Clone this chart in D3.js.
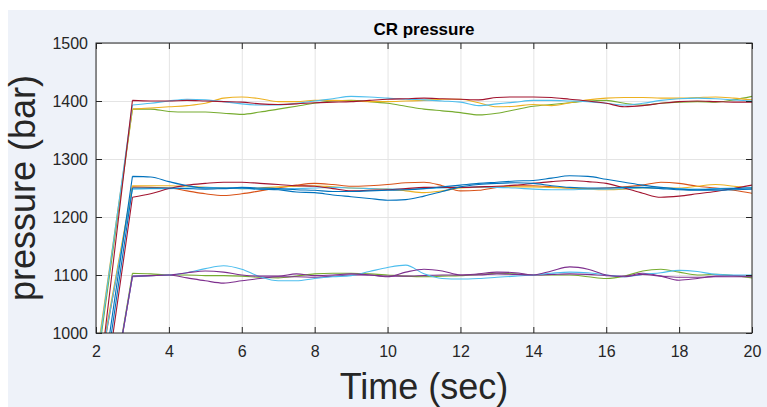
<!DOCTYPE html>
<html lang="en">

<head>
	<meta charset="UTF-8">
	<script src="https://cdn.jsdelivr.net/npm/d3@7"></script>
	<title>CR pressure</title>
	<style>
		body {
			margin: 0;
			background: #fff;
		}

		svg {
			display: block;
			font-family: Arial, "Liberation Sans", sans-serif;
		}

		.tick text {
			fill: #262626;
			font-size: 16px;
		}
	</style>
</head>

<body>
	<div id="chart"></div>
	<script>
		// sample times (s); first sample is the ramp start, clipped below 1000 bar
		const times = [2, 3, 3.5, 4, 4.5, 5, 5.5, 6, 6.5, 7, 7.5, 8, 8.5, 9, 9.5, 10, 10.5, 11, 11.5,
			12, 12.5, 13, 13.5, 14, 14.5, 15, 15.5, 16, 16.5, 17, 17.5, 18, 18.5, 19, 19.5, 20];

		// ~1400 bar runs
		const hiRed = [870, 1401, 1400, 1400, 1401, 1400, 1399, 1398, 1395, 1394, 1395, 1397, 1398, 1399, 1401, 1403, 1404, 1405, 1404, 1403, 1402, 1406, 1407, 1407, 1406, 1403, 1400, 1396, 1390, 1392, 1396, 1399, 1400, 1399, 1398, 1398];
		const hiCyan = [940, 1393, 1396, 1400, 1403, 1402, 1399, 1395, 1393, 1393, 1396, 1400, 1404, 1408, 1407, 1405, 1403, 1402, 1400, 1398, 1392, 1395, 1398, 1401, 1401, 1400, 1399, 1396, 1393, 1396, 1401, 1404, 1405, 1404, 1402, 1400];
		const hiYellow = [950, 1386, 1388, 1390, 1392, 1396, 1405, 1407, 1404, 1399, 1399, 1401, 1401, 1400, 1399, 1399, 1400, 1401, 1403, 1403, 1397, 1390, 1391, 1394, 1392, 1397, 1402, 1405, 1406, 1406, 1405, 1405, 1406, 1407, 1405, 1402];
		const hiGreen = [930, 1386, 1386, 1382, 1381, 1381, 1379, 1377, 1381, 1386, 1391, 1396, 1400, 1401, 1399, 1396, 1391, 1386, 1383, 1380, 1376, 1379, 1385, 1391, 1394, 1397, 1400, 1401, 1396, 1393, 1396, 1398, 1399, 1398, 1402, 1408];

		// ~1250 bar runs
		const midBlueA = [835, 1270, 1269, 1261, 1254, 1250, 1250, 1251, 1250, 1249, 1247, 1246, 1244, 1244, 1245, 1246, 1247, 1249, 1252, 1255, 1258, 1260, 1262, 1263, 1267, 1271, 1270, 1265, 1260, 1255, 1251, 1248, 1247, 1248, 1249, 1250];
		const midBlueB = [815, 1250, 1250, 1250, 1249, 1248, 1249, 1250, 1248, 1247, 1243, 1242, 1238, 1235, 1232, 1229, 1230, 1236, 1244, 1252, 1256, 1258, 1259, 1258, 1254, 1251, 1250, 1250, 1251, 1251, 1249, 1247, 1246, 1246, 1247, 1248];
		const midOrange = [900, 1252, 1251, 1250, 1245, 1240, 1237, 1240, 1245, 1250, 1255, 1258, 1256, 1253, 1254, 1256, 1259, 1260, 1254, 1245, 1246, 1251, 1254, 1254, 1252, 1250, 1249, 1250, 1252, 1255, 1260, 1258, 1253, 1250, 1246, 1241];
		const midRed = [792, 1234, 1240, 1249, 1255, 1258, 1260, 1260, 1258, 1256, 1254, 1253, 1249, 1245, 1246, 1247, 1249, 1251, 1251, 1251, 1252, 1253, 1255, 1258, 1261, 1263, 1261, 1258, 1250, 1241, 1234, 1236, 1240, 1244, 1249, 1255];
		const midYellow = [910, 1254, 1254, 1254, 1253, 1251, 1250, 1249, 1250, 1252, 1253, 1254, 1252, 1250, 1249, 1248, 1245, 1242, 1245, 1250, 1251, 1252, 1252, 1252, 1251, 1250, 1248, 1247, 1248, 1250, 1250, 1250, 1253, 1256, 1253, 1250];
		const midCyan = [905, 1248, 1249, 1249, 1250, 1251, 1250, 1249, 1248, 1248, 1249, 1250, 1251, 1250, 1249, 1248, 1248, 1249, 1250, 1251, 1252, 1251, 1250, 1248, 1247, 1247, 1248, 1248, 1249, 1250, 1250, 1249, 1248, 1249, 1250, 1251];

		// ~1100 bar runs
		const loCyan = [730, 1098, 1099, 1100, 1104, 1111, 1116, 1110, 1097, 1090, 1090, 1094, 1097, 1099, 1106, 1113, 1117, 1102, 1094, 1093, 1094, 1096, 1098, 1100, 1103, 1105, 1104, 1100, 1097, 1101, 1104, 1108, 1106, 1101, 1100, 1100];
		const loPurpleA = [730, 1098, 1099, 1100, 1104, 1107, 1105, 1100, 1098, 1098, 1102, 1099, 1100, 1102, 1100, 1097, 1105, 1110, 1107, 1100, 1100, 1102, 1101, 1100, 1107, 1114, 1110, 1100, 1097, 1101, 1098, 1096, 1096, 1097, 1097, 1097];
		const loPurpleB = [730, 1097, 1099, 1100, 1095, 1090, 1086, 1090, 1094, 1097, 1097, 1096, 1098, 1100, 1100, 1098, 1098, 1099, 1100, 1100, 1102, 1105, 1104, 1100, 1101, 1102, 1101, 1099, 1098, 1103, 1098, 1091, 1094, 1098, 1099, 1098];
		const loGreen = [730, 1103, 1102, 1100, 1100, 1099, 1099, 1098, 1096, 1095, 1098, 1102, 1103, 1103, 1102, 1100, 1098, 1097, 1098, 1099, 1101, 1103, 1102, 1100, 1100, 1100, 1097, 1094, 1098, 1107, 1110, 1105, 1100, 1101, 1099, 1095];

		const runs = [
			{ values: midOrange, color: '#D95319' },
			{ values: midYellow, color: '#EDB120' },
			{ values: midCyan, color: '#4DBEEE' },
			{ values: midRed, color: '#A2142F' },
			{ values: midBlueB, color: '#0072BD' },
			{ values: midBlueA, color: '#0072BD' },
			{ values: hiGreen, color: '#77AC30' },
			{ values: hiYellow, color: '#EDB120' },
			{ values: hiCyan, color: '#4DBEEE' },
			{ values: hiRed, color: '#A2142F' },
			{ values: loGreen, color: '#77AC30' },
			{ values: loPurpleB, color: '#7E2F8E' },
			{ values: loCyan, color: '#4DBEEE' },
			{ values: loPurpleA, color: '#7E2F8E' }
		];

		const xTicks = [2, 4, 6, 8, 10, 12, 14, 16, 18, 20];
		const yTicks = [1000, 1100, 1200, 1300, 1400, 1500];

		const width = 767;
		const height = 407;
		const plotL = 96, plotR = 752, plotT = 43, plotB = 333;

		const svg = d3.select('#chart')
			.append('svg')
			.attr('width', width)
			.attr('height', height);

		// figure background
		svg.append('rect')
			.attr('x', 8).attr('y', 10)
			.attr('width', width - 8).attr('height', height - 10)
			.attr('fill', '#eef2f9');
		svg.append('rect')
			.attr('x', plotL).attr('y', plotT)
			.attr('width', plotR - plotL).attr('height', plotB - plotT)
			.attr('fill', '#fff');

		const x = d3.scaleLinear().domain([2, 20]).range([plotL, plotR]);
		const y = d3.scaleLinear().domain([1000, 1500]).range([plotB, plotT]);

		// grid
		svg.append('g')
			.attr('transform', `translate(0,${plotB})`)
			.call(d3.axisBottom(x).tickValues(xTicks).tickSize(-(plotB - plotT)).tickFormat(''))
			.call(g => g.select('.domain').remove())
			.selectAll('line').attr('stroke', '#e4e4e4');
		svg.append('g')
			.attr('transform', `translate(${plotL},0)`)
			.call(d3.axisLeft(y).tickValues(yTicks).tickSize(-(plotR - plotL)).tickFormat(''))
			.call(g => g.select('.domain').remove())
			.selectAll('line').attr('stroke', '#e4e4e4');

		// lines: straight ramp up to t=3, smooth afterwards
		svg.append('clipPath').attr('id', 'clip')
			.append('rect')
			.attr('x', plotL).attr('y', plotT)
			.attr('width', plotR - plotL).attr('height', plotB - plotT);

		const pts = vals => vals.map((v, i) => [x(times[i]), y(v)]);
		const ramp = d3.line();
		const body = d3.line().curve(d3.curveMonotoneX);

		const lines = svg.append('g').attr('clip-path', 'url(#clip)');
		runs.forEach(r => {
			const p = pts(r.values);
			lines.append('path')
				.attr('d', ramp(p.slice(0, 2)) + body(p.slice(1)))
				.attr('fill', 'none')
				.attr('stroke', r.color)
				.attr('stroke-width', 1.1);
		});

		// axes, ticks pointing inward
		const axisColor = '#262626';
		const styleAxis = g => {
			g.select('.domain').remove();
			g.selectAll('line').attr('stroke', axisColor);
		};
		svg.append('g')
			.attr('transform', `translate(0,${plotB})`)
			.call(d3.axisBottom(x).tickValues(xTicks).tickSizeInner(-6).tickSizeOuter(0).tickPadding(13))
			.call(styleAxis);
		svg.append('g')
			.attr('transform', `translate(${plotL},0)`)
			.call(d3.axisLeft(y).tickValues(yTicks).tickFormat(d3.format('d')).tickSizeInner(-6).tickSizeOuter(0).tickPadding(8))
			.call(styleAxis);
		svg.append('g')
			.attr('transform', `translate(0,${plotT})`)
			.call(d3.axisTop(x).tickValues(xTicks).tickSizeInner(-6).tickSizeOuter(0).tickFormat(''))
			.call(styleAxis);
		svg.append('g')
			.attr('transform', `translate(${plotR},0)`)
			.call(d3.axisRight(y).tickValues(yTicks).tickSizeInner(-6).tickSizeOuter(0).tickFormat(''))
			.call(styleAxis);

		svg.append('rect')
			.attr('x', plotL).attr('y', plotT)
			.attr('width', plotR - plotL).attr('height', plotB - plotT)
			.attr('fill', 'none')
			.attr('stroke', axisColor)
			.attr('stroke-width', 1);

		// texts
		svg.append('text')
			.attr('x', (plotL + plotR) / 2).attr('y', 35)
			.attr('text-anchor', 'middle')
			.attr('font-weight', 'bold')
			.attr('font-size', 17)
			.attr('fill', '#000')
			.text('CR pressure');
		svg.append('text')
			.attr('x', (plotL + plotR) / 2).attr('y', 399)
			.attr('text-anchor', 'middle')
			.attr('font-size', 36)
			.attr('fill', '#262626')
			.text('Time (sec)');
		svg.append('text')
			.attr('transform', `translate(35,${(plotT + plotB) / 2}) rotate(-90)`)
			.attr('text-anchor', 'middle')
			.attr('font-size', 36)
			.attr('fill', '#262626')
			.text('pressure (bar)');
	</script>
</body>

</html>
